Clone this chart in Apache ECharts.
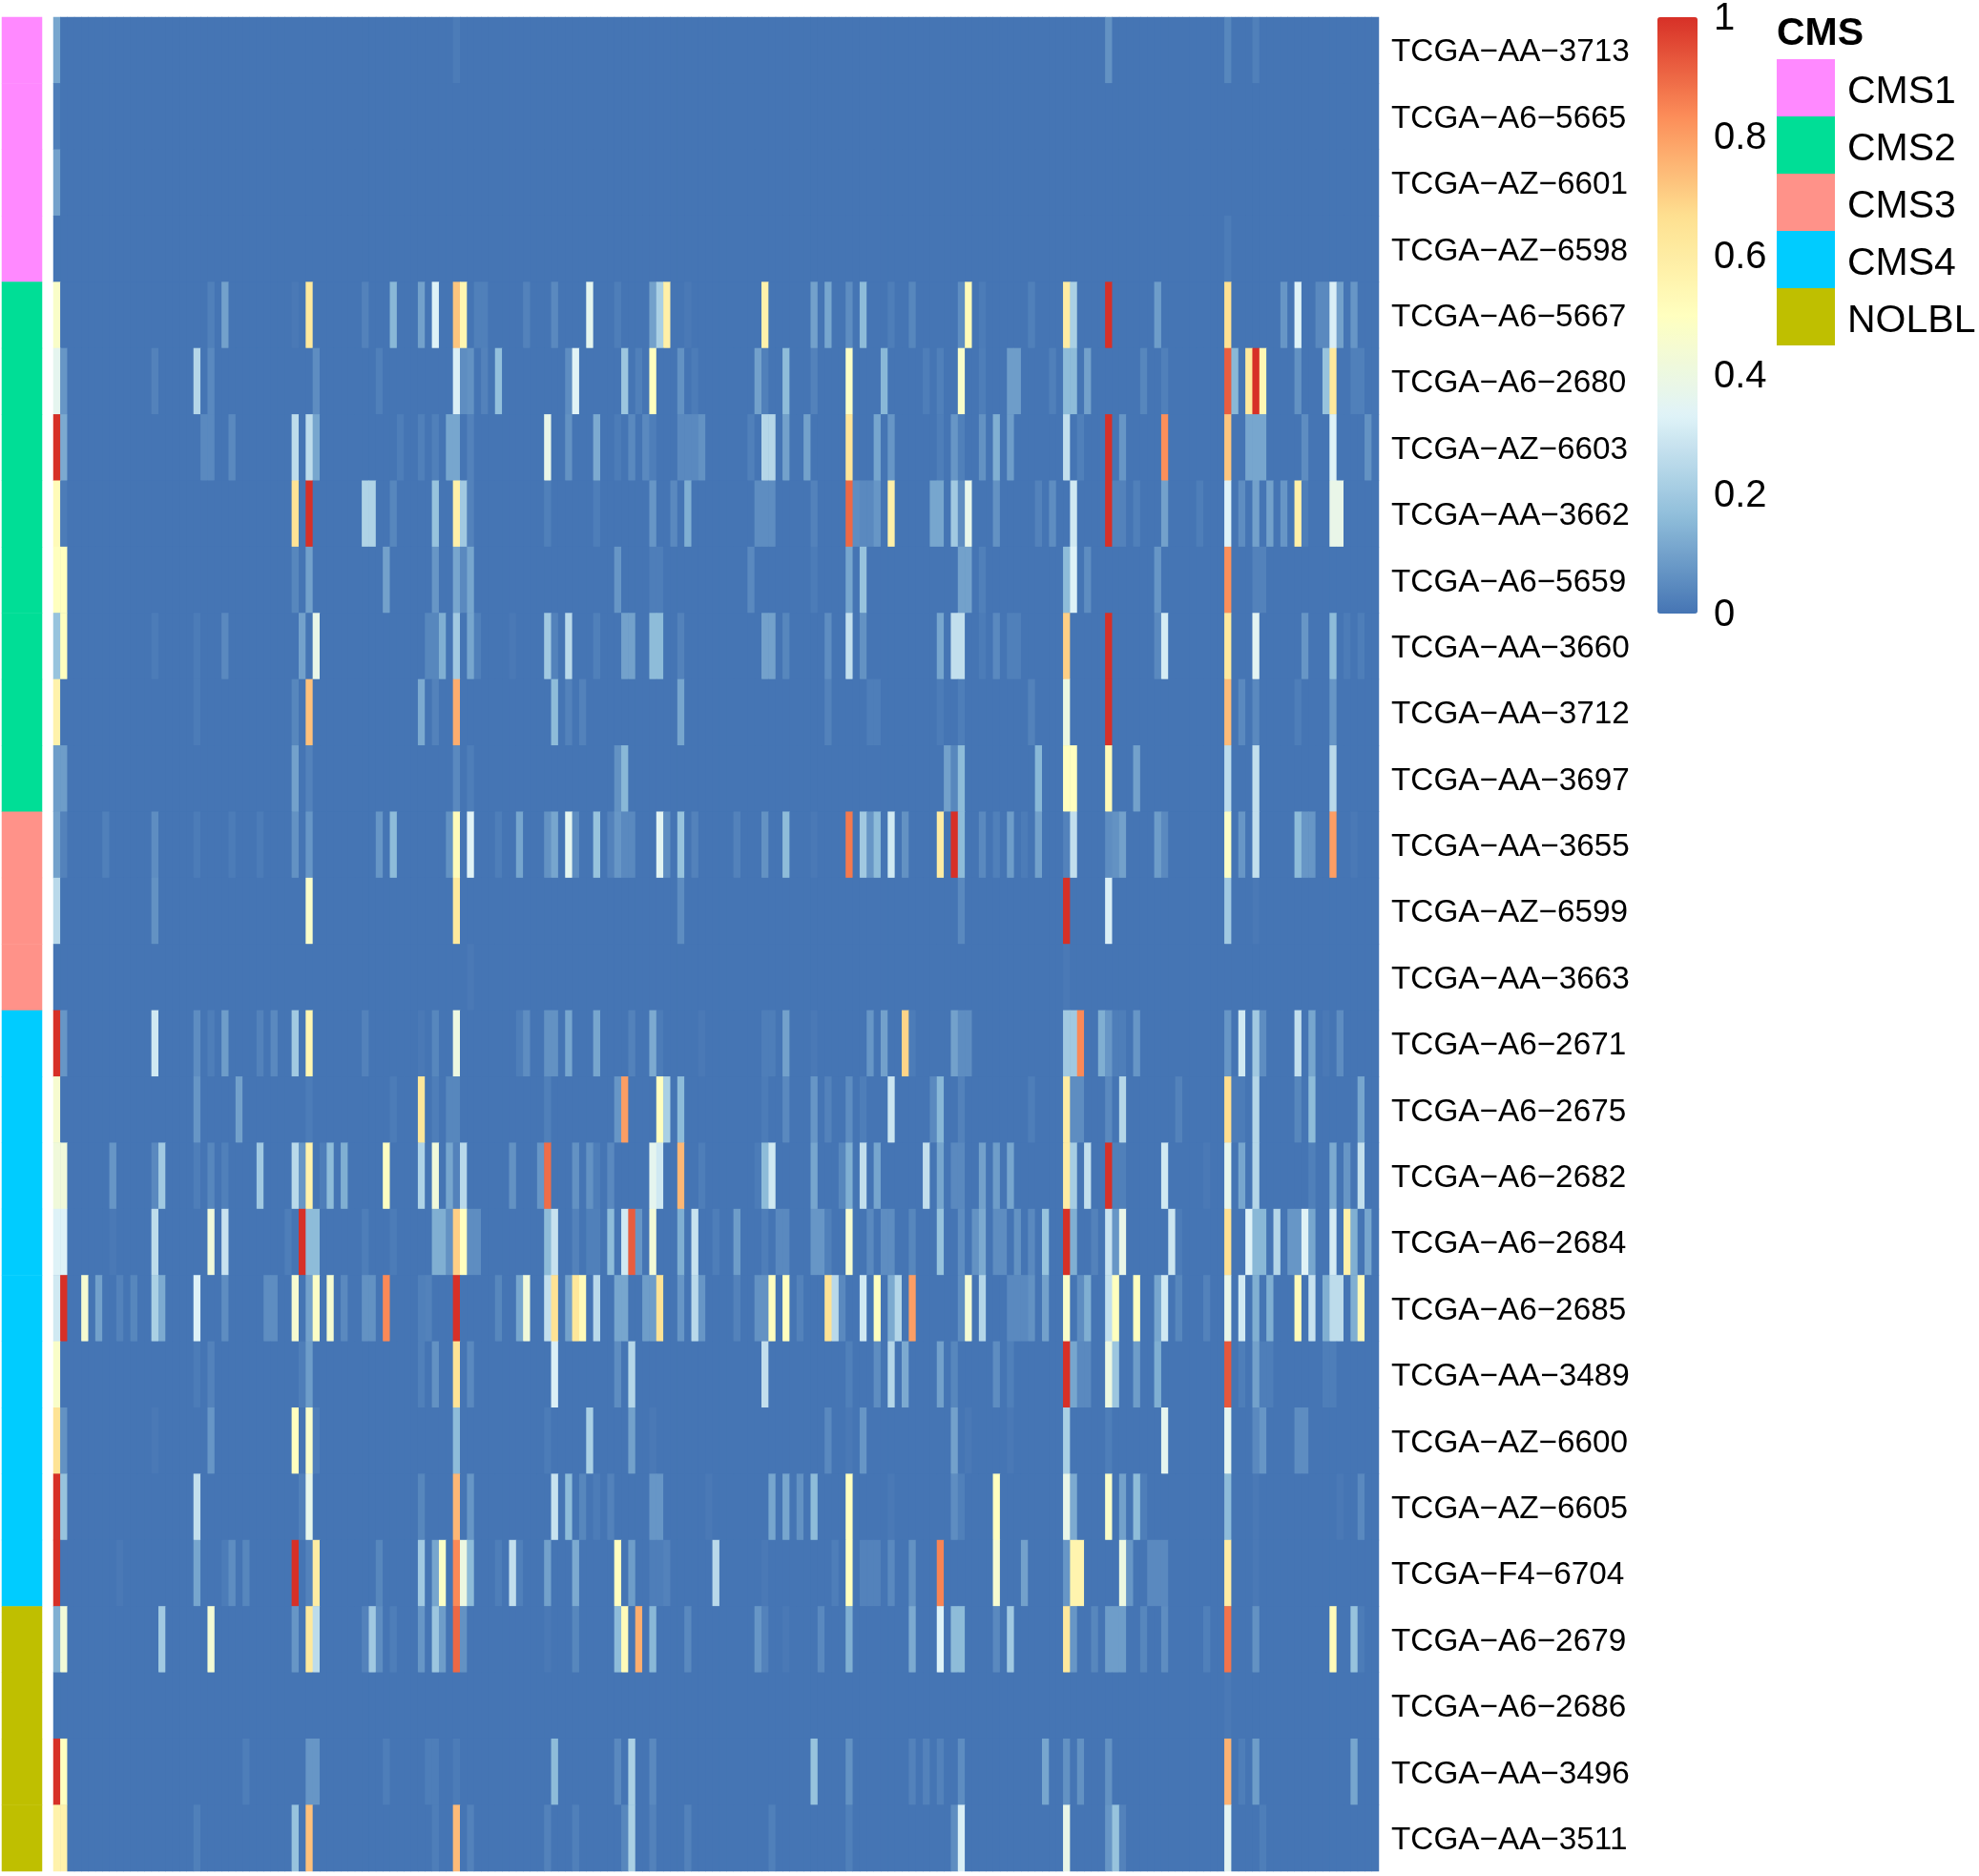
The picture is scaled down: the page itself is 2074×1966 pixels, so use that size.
<!DOCTYPE html>
<html>
<head>
<meta charset="utf-8">
<title>CMS heatmap</title>
<script src="https://cdn.jsdelivr.net/npm/echarts@6/dist/echarts.min.js"></script>
<style>
html,body{margin:0;padding:0;background:#fff;}
#chart{width:2074px;height:1966px;}
</style>
</head>
<body>
<div id="chart"></div>
<script>
// sample names, top to bottom
var samples = ["TCGA−AA−3713","TCGA−A6−5665","TCGA−AZ−6601","TCGA−AZ−6598","TCGA−A6−5667","TCGA−A6−2680","TCGA−AZ−6603","TCGA−AA−3662","TCGA−A6−5659","TCGA−AA−3660","TCGA−AA−3712","TCGA−AA−3697","TCGA−AA−3655","TCGA−AZ−6599","TCGA−AA−3663","TCGA−A6−2671","TCGA−A6−2675","TCGA−A6−2682","TCGA−A6−2684","TCGA−A6−2685","TCGA−AA−3489","TCGA−AZ−6600","TCGA−AZ−6605","TCGA−F4−6704","TCGA−A6−2679","TCGA−A6−2686","TCGA−AA−3496","TCGA−AA−3511"];
// CMS class of every sample (index into cmsNames)
var cmsNames = ["CMS1","CMS2","CMS3","CMS4","NOLBL"];
var cmsColors = ["#FF89FF","#00DE96","#FF9289","#00CCFF","#BFBF00"];
var sampleCms = [0,0,0,0,1,1,1,1,1,1,1,1,2,2,2,3,3,3,3,3,3,3,3,3,4,4,4,4];
var columnCount = 189;
var colorStops = ["#4575B4","#91BFDB","#E0F3F8","#FFFFBF","#FEE090","#FC8D59","#D73027"];
var legendTicks = [0,0.2,0.4,0.6,0.8,1];

// non zero cells of each row: [column, value]
var r0 = [[0,.11],[57,.015],[150,.065],[167,.04],[171,.025]];
var r1 = [[0,.02]];
var r2 = [[0,.1]];
var r3 = [[167,.015]];
var r4 = [[0,.47],[22,.025],[24,.1],[34,.01],[36,.62],[44,.03],[48,.15],[52,.1],[54,.33],[57,.72],[58,.55],[60,.025],[61,.025],[67,.03],[71,.045],[76,.36],[80,.02],[85,.1],[86,.22],[87,.58],[90,.01],[101,.57],[108,.1],[110,.11],[113,.055],[115,.16],[119,.02],[122,.04],[129,.055],[130,.52],[132,.015],[139,.025],[144,.6],[145,.22],[150,1],[157,.09],[167,.66],[175,.075],[177,.33],[180,.045],[181,.045],[182,.32],[183,.1],[185,.075]];
var r5 = [[0,.36],[1,.075],[14,.03],[20,.24],[22,.045],[37,.055],[46,.025],[57,.32],[58,.055],[59,.065],[61,.03],[63,.17],[73,.055],[74,.34],[81,.19],[83,.025],[85,.5],[89,.065],[91,.015],[100,.1],[101,.025],[104,.16],[108,.03],[113,.48],[118,.15],[124,.02],[126,.025],[129,.47],[132,.02],[136,.09],[137,.09],[142,.025],[144,.16],[145,.16],[147,.1],[155,.04],[158,.025],[167,.92],[168,.15],[170,.62],[171,1],[172,.54],[177,.065],[181,.18],[182,.62],[185,.025],[186,.025]];
var r6 = [[0,1],[1,.12],[21,.045],[22,.045],[25,.045],[34,.26],[36,.26],[37,.11],[49,.02],[52,.025],[54,.025],[56,.11],[57,.11],[59,.03],[70,.38],[73,.065],[77,.12],[80,.015],[82,.045],[84,.045],[85,.02],[89,.045],[90,.045],[91,.045],[92,.065],[99,.025],[101,.24],[102,.24],[104,.1],[107,.1],[113,.64],[117,.11],[119,.075],[126,.02],[128,.075],[129,.025],[132,.065],[134,.13],[136,.09],[144,.27],[146,.025],[150,1],[152,.075],[158,.83],[167,.72],[170,.11],[171,.11],[172,.11],[178,.055],[182,.33],[187,.065]];
var r7 = [[0,.52],[1,.015],[34,.65],[36,1],[44,.23],[45,.23],[48,.04],[54,.18],[57,.58],[58,.2],[59,.03],[70,.025],[77,.02],[85,.075],[88,.045],[90,.13],[100,.055],[101,.055],[102,.055],[108,.03],[113,.9],[114,.055],[115,.045],[116,.045],[117,.075],[119,.58],[125,.11],[126,.11],[128,.2],[129,.055],[130,.37],[134,.065],[140,.03],[142,.055],[145,.3],[150,1],[151,.03],[152,.03],[154,.025],[158,.1],[163,.02],[167,.33],[169,.055],[171,.1],[173,.1],[175,.075],[177,.58],[178,.02],[182,.38],[183,.38]];
var r8 = [[0,.5],[1,.5],[34,.04],[36,.1],[47,.1],[54,.075],[57,.11],[58,.045],[59,.11],[80,.075],[85,.02],[86,.02],[99,.045],[108,.015],[113,.11],[115,.18],[129,.1],[130,.1],[132,.025],[144,.16],[145,.33],[147,.055],[157,.075],[167,.83],[171,.03],[172,.03]];
var r9 = [[0,.18],[1,.5],[14,.015],[20,.015],[24,.045],[35,.1],[37,.38],[53,.04],[54,.04],[55,.13],[57,.2],[59,.11],[60,.025],[65,.01],[70,.2],[71,.03],[73,.25],[77,.025],[81,.1],[82,.1],[85,.16],[86,.16],[89,.03],[101,.1],[102,.1],[104,.04],[110,.055],[113,.27],[115,.065],[126,.11],[128,.27],[129,.27],[132,.015],[134,.045],[136,.025],[137,.025],[144,.7],[150,1],[157,.045],[158,.31],[167,.62],[171,.35],[178,.075],[182,.16],[184,.015],[186,.02]];
var r10 = [[0,.57],[20,.015],[34,.04],[36,.73],[52,.12],[54,.03],[57,.77],[71,.16],[73,.03],[75,.03],[89,.11],[110,.03],[116,.02],[117,.02],[126,.015],[129,.02],[139,.03],[144,.4],[150,1],[167,.74],[169,.045],[171,.045],[177,.02],[182,.075]];
var r11 = [[0,.09],[1,.09],[34,.1],[36,.03],[57,.045],[59,.02],[80,.065],[81,.15],[127,.1],[128,.04],[129,.16],[140,.15],[144,.5],[145,.5],[150,.53],[154,.1],[167,.26],[171,.27],[182,.25]];
var r12 = [[0,.1],[1,.03],[7,.025],[14,.055],[20,.015],[25,.015],[29,.015],[34,.065],[36,.075],[46,.075],[48,.16],[56,.065],[57,.52],[59,.34],[63,.02],[66,.11],[70,.065],[71,.11],[73,.36],[74,.055],[77,.18],[79,.03],[80,.075],[81,.045],[82,.045],[86,.35],[87,.055],[89,.18],[91,.03],[97,.03],[101,.065],[104,.16],[108,.01],[113,.87],[115,.2],[116,.075],[117,.16],[119,.3],[121,.065],[126,.6],[128,1],[129,.16],[132,.045],[134,.025],[136,.09],[138,.015],[140,.1],[144,.03],[145,.27],[150,.055],[151,.065],[152,.1],[157,.09],[158,.045],[167,.48],[169,.075],[171,.27],[177,.16],[178,.075],[179,.075],[182,.8],[185,.01]];
var r13 = [[0,.25],[14,.065],[36,.47],[57,.62],[89,.055],[129,.045],[144,1],[150,.32],[167,.2],[171,.01]];
var r14 = [[59,.01],[144,.01]];
var r15 = [[0,1],[1,.075],[14,.3],[20,.055],[22,.02],[24,.09],[29,.03],[31,.045],[34,.2],[36,.55],[44,.03],[52,.01],[54,.04],[57,.4],[66,.02],[67,.055],[70,.065],[71,.065],[73,.11],[77,.11],[82,.03],[85,.12],[86,.015],[92,.01],[101,.02],[102,.02],[104,.1],[108,.01],[116,.075],[118,.1],[121,.69],[122,.015],[128,.1],[129,.055],[130,.055],[144,.2],[145,.2],[146,.84],[149,.13],[150,.075],[151,.02],[152,.02],[154,.075],[167,.075],[169,.3],[171,.2],[172,.055],[177,.27],[179,.11],[181,.01],[183,.055]];
var r16 = [[0,.45],[20,.075],[26,.1],[36,.015],[48,.015],[52,.63],[54,.02],[56,.04],[57,.04],[70,.025],[80,.075],[81,.8],[86,.5],[87,.22],[89,.16],[101,.015],[104,.045],[108,.075],[110,.03],[113,.055],[115,.02],[119,.29],[125,.045],[126,.15],[129,.03],[139,.02],[144,.6],[145,.055],[146,.055],[150,.045],[152,.24],[160,.03],[167,.67],[168,.015],[169,.015],[171,.24],[177,.04],[179,.16],[186,.11]];
var r17 = [[0,.42],[1,.42],[8,.075],[14,.045],[15,.2],[20,.02],[22,.04],[24,.025],[29,.2],[34,.25],[35,.075],[36,.57],[38,.02],[39,.16],[41,.13],[47,.49],[52,.23],[54,.42],[56,.11],[57,.03],[58,.25],[65,.065],[69,.075],[70,.89],[74,.065],[76,.065],[77,.02],[79,.045],[85,.36],[86,.3],[89,.75],[92,.02],[100,.015],[101,.16],[102,.3],[108,.11],[112,.04],[113,.13],[115,.27],[117,.11],[124,.27],[126,.11],[128,.045],[129,.045],[132,.1],[134,.09],[136,.11],[144,.6],[145,.21],[147,.27],[150,1],[151,.025],[152,.025],[158,.3],[164,.01],[167,.37],[169,.11],[171,.24],[179,.025],[182,.12],[184,.075],[186,.27]];
var r18 = [[0,.33],[1,.33],[8,.01],[14,.26],[22,.42],[24,.28],[33,.02],[35,1],[36,.16],[37,.16],[44,.02],[48,.015],[54,.13],[55,.13],[56,.065],[57,.7],[58,.5],[59,.055],[60,.055],[70,.16],[71,.28],[74,.03],[76,.025],[77,.025],[79,.16],[81,.3],[82,.92],[83,.075],[85,.43],[89,.13],[91,.28],[94,.02],[97,.09],[101,.02],[103,.045],[104,.045],[108,.075],[109,.075],[110,.025],[113,.45],[116,.045],[118,.055],[119,.055],[122,.04],[126,.18],[129,.055],[131,.065],[132,.12],[134,.055],[135,.055],[137,.065],[139,.045],[141,.18],[144,1],[145,.13],[148,.03],[150,.28],[151,.075],[152,.38],[159,.29],[160,.015],[167,.66],[170,.33],[171,.15],[172,.15],[174,.24],[176,.075],[177,.075],[178,.34],[179,.11],[182,.31],[184,.58],[185,.13],[187,.11]];
var r19 = [[0,.3],[1,1],[4,.45],[6,.1],[9,.03],[11,.04],[14,.22],[15,.12],[20,.33],[24,.055],[30,.055],[31,.055],[34,.45],[36,.1],[37,.48],[39,.45],[41,.045],[44,.065],[45,.065],[47,.84],[52,.025],[53,.03],[57,1],[63,.04],[66,.11],[67,.42],[70,.27],[71,.65],[73,.1],[74,.63],[75,.52],[77,.25],[80,.11],[81,.11],[84,.09],[85,.09],[86,.65],[89,.075],[91,.25],[92,.075],[97,.03],[100,.065],[101,.065],[102,.5],[104,.5],[106,.03],[110,.65],[111,.25],[112,.045],[115,.3],[117,.5],[119,.12],[120,.24],[122,.8],[129,.055],[130,.44],[132,.24],[136,.045],[137,.045],[138,.045],[139,.065],[141,.1],[144,.47],[146,.055],[147,.13],[150,.27],[151,.5],[154,.5],[157,.11],[158,.3],[160,.04],[164,.03],[167,.38],[169,.3],[171,.13],[173,.13],[177,.52],[179,.28],[181,.13],[182,.26],[183,.26],[185,.13],[186,.53]];
var r20 = [[0,.47],[20,.015],[22,.03],[35,.02],[36,.09],[52,.025],[54,.065],[57,.65],[59,.045],[71,.32],[80,.055],[82,.24],[101,.27],[113,.025],[117,.055],[119,.24],[121,.12],[126,.1],[128,.04],[134,.055],[136,.025],[144,1],[145,.11],[146,.045],[147,.045],[150,.4],[151,.19],[154,.09],[157,.13],[167,.93],[169,.02],[171,.1],[172,.02],[173,.02],[181,.02],[182,.02]];
var r21 = [[0,.65],[1,.065],[14,.01],[22,.075],[34,.5],[36,.47],[37,.02],[57,.16],[70,.015],[76,.22],[82,.1],[85,.01],[110,.045],[113,.01],[115,.075],[128,.1],[130,.01],[136,.01],[144,.22],[150,.02],[158,.36],[167,.36],[171,.045],[172,.075],[177,.055],[178,.055]];
var r22 = [[0,1],[1,.18],[20,.27],[35,.025],[36,.37],[52,.04],[57,.75],[59,.075],[71,.28],[73,.16],[75,.04],[77,.015],[79,.03],[85,.075],[86,.075],[93,.01],[102,.11],[104,.11],[106,.065],[108,.16],[113,.5],[119,.01],[128,.055],[129,.025],[134,.5],[144,.38],[145,.12],[150,.47],[152,.1],[154,.16],[155,.02],[167,.16],[171,.01],[183,.01],[186,.045]];
var r23 = [[0,1],[9,.01],[20,.11],[24,.015],[25,.055],[27,.04],[34,1],[36,.03],[37,.6],[46,.04],[52,.2],[54,.11],[55,.48],[57,.84],[58,.4],[59,.16],[63,.02],[65,.27],[66,.025],[70,.1],[74,.12],[80,.5],[82,.09],[85,.02],[86,.02],[87,.03],[94,.25],[101,.01],[111,.02],[113,.5],[115,.03],[116,.03],[117,.03],[119,.045],[122,.065],[126,.85],[134,.45],[138,.1],[144,.075],[145,.56],[146,.56],[152,.4],[153,.075],[156,.045],[157,.045],[158,.045],[167,.6],[171,.01]];
var r24 = [[0,.13],[1,.43],[15,.2],[22,.44],[34,.075],[36,.62],[37,.26],[44,.03],[45,.2],[46,.055],[48,.02],[52,.075],[54,.19],[55,.09],[57,.9],[58,.065],[70,.01],[74,.04],[80,.16],[81,.52],[83,.77],[85,.15],[90,.045],[100,.075],[101,.03],[104,.01],[109,.045],[113,.13],[122,.12],[126,.33],[128,.16],[129,.16],[134,.045],[136,.2],[144,.62],[145,.075],[148,.04],[150,.09],[151,.09],[152,.09],[155,.04],[158,.055],[164,.025],[167,.88],[171,.065],[182,.52],[185,.18],[186,.015]];
var r25 = [[167,.01]];
var r26 = [[0,1],[1,.5],[27,.02],[36,.075],[37,.075],[47,.02],[53,.02],[54,.02],[57,.015],[71,.16],[80,.045],[82,.22],[85,.045],[108,.18],[113,.065],[122,.03],[124,.03],[126,.03],[129,.055],[141,.11],[144,.065],[146,.065],[150,.065],[167,.76],[169,.02],[171,.09],[185,.11]];
var r27 = [[0,.57],[1,.57],[20,.025],[34,.18],[36,.73],[54,.02],[57,.74],[59,.03],[70,.03],[74,.025],[81,.04],[82,.22],[85,.03],[90,.03],[102,.025],[113,.025],[128,.055],[129,.32],[144,.38],[150,.075],[151,.18],[152,.03],[167,.35],[172,.02]];
var rows = [r0,r1,r2,r3,r4,r5,r6,r7,r8,r9,r10,r11,r12,r13,r14,r15,r16,r17,r18,r19,r20,r21,r22,r23,r24,r25,r26,r27];

// expand the rows into heatmap cells, everything not listed is 0
var columns = [];
for(var c=0;c<columnCount;c++) {
	columns.push(c);
}
var cells = [];
var annotation = [];
for(var i=0;i<rows.length;i++) {
	var rowValues = {};
	for(var j=0;j<rows[i].length;j++) {
		rowValues[rows[i][j][0]] = rows[i][j][1];
	}
	for(var k=0;k<columnCount;k++) {
		cells.push([k,i,rowValues[k] || 0]);
	}
	annotation.push([0,i,sampleCms[i]]);
}
var pieces = [];
for(var p=0;p<cmsNames.length;p++) {
	pieces.push({value:p,label:cmsNames[p],color:cmsColors[p]});
}

var font = '"Liberation Sans", Arial, sans-serif';
// value-less axis that only carries text labels
function labelAxis(gridIndex, names, margin, size) {
	return {
		type : "category",
		gridIndex : gridIndex,
		data : names,
		inverse : true,
		position : "right",
		axisLine : {show:false},
		axisTick : {show:false},
		axisLabel : {
			interval : 0,
			margin : margin,
			fontFamily : font,
			fontSize : size,
			color : "#000"
		}
	};
}
var chart = echarts.init(document.getElementById("chart"));
chart.setOption({
	backgroundColor : "#fff",
	animation : false,
	title : {
		text : "CMS",
		left : 1862,
		top : 15,
		padding : 0,
		textStyle : {
			fontFamily : font,
			fontWeight : "bold",
			fontSize : 41,
			color : "#000"
		}
	},
	grid : [
		// the heatmap sits on a base of the 0 colour, so the sub pixel gaps between cells stay invisible
		{left:56,top:18,width:1389,height:1943,show:true,backgroundColor:colorStops[0],borderWidth:0},
		{left:2,top:18,width:42,height:1943},
		{left:1785,top:20,width:1,height:625},
		{left:56,top:20.5,width:1389,height:1943},
		{left:1923,top:66.5,width:1,height:300}
	],
	xAxis : [
		{type:"category",gridIndex:0,data:columns,show:false},
		{type:"category",gridIndex:1,data:["CMS"],show:false},
		{type:"value",gridIndex:2,show:false},
		{type:"value",gridIndex:3,show:false},
		{type:"value",gridIndex:4,show:false}
	],
	yAxis : [
		{type:"category",gridIndex:0,data:samples,inverse:true,show:false},
		{type:"category",gridIndex:1,data:samples,inverse:true,show:false},
		{
			type : "value",
			gridIndex : 2,
			min : legendTicks[0],
			max : legendTicks[legendTicks.length-1],
			interval : 0.2,
			position : "right",
			splitLine : {show:false},
			axisLine : {show:false},
			axisTick : {show:false},
			axisLabel : {
				margin : 10,
				fontFamily : font,
				fontSize : 40,
				color : "#000",
				showMinLabel : true,
				showMaxLabel : true
			}
		},
		labelAxis(3,samples,13,33.3),
		labelAxis(4,cmsNames,12,41)
	],
	visualMap : [
		{
			type : "continuous",
			seriesIndex : 0,
			dimension : 2,
			min : 0,
			max : 1,
			calculable : false,
			realtime : false,
			hoverLink : false,
			left : 1737,
			top : 18,
			padding : 0,
			itemWidth : 42,
			itemHeight : 625,
			text : null,
			showLabel : false,
			inRange : {color:colorStops}
		},
		{
			type : "piecewise",
			seriesIndex : 1,
			dimension : 2,
			pieces : pieces,
			selectedMode : false,
			hoverLink : false,
			left : 1862,
			top : 62,
			padding : 0,
			orient : "vertical",
			inverse : true,
			align : "left",
			itemWidth : 61,
			itemHeight : 60,
			itemGap : 0,
			showLabel : false,
			itemSymbol : "rect"
		}
	],
	series : [
		{
			type : "heatmap",
			xAxisIndex : 0,
			yAxisIndex : 0,
			data : cells,
			progressive : 0,
			itemStyle : {borderWidth:0}
		},
		{
			type : "heatmap",
			xAxisIndex : 1,
			yAxisIndex : 1,
			data : annotation,
			progressive : 0,
			itemStyle : {borderWidth:0}
		}
	]
});
</script>
</body>
</html>
